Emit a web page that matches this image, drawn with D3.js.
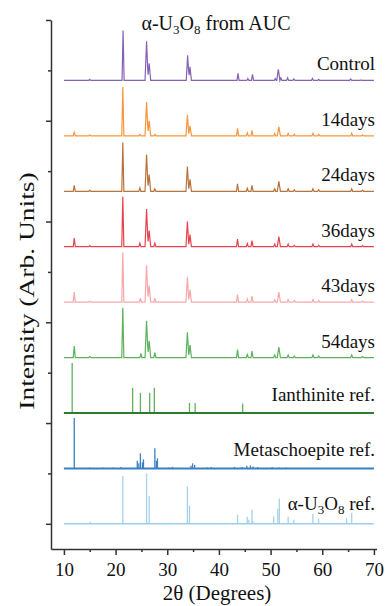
<!DOCTYPE html>
<html>
<head>
<meta charset="utf-8">
<script src="https://cdn.jsdelivr.net/npm/d3@7"></script>
<style>
  body { margin: 0; background: #fff; }
  svg { display: block; }
  text { font-family: "Liberation Serif", "Times New Roman", serif; fill: #111; }
  .axis path, .axis line { stroke: #333; stroke-width: 1.5; }
</style>
</head>
<body>
<svg id="chart" width="386" height="606"></svg>
<script>
// [2theta, relative intensity, (half width)]
const controlPeaks = [[15.0,0.02],[21.45,0.99],[26.0,0.78,0.3],[26.5,0.34,0.3],[33.95,0.5,0.28],[34.4,0.27,0.28],
  [43.7,0.14],[45.6,0.04],[46.5,0.12],[50.9,0.04],[51.5,0.22,0.3],[52.0,0.05],[53.3,0.05],[54.5,0.03],
  [58.1,0.04],[59.3,0.02],[65.5,0.03],[67.5,0.01]];
const days14Peaks = [[12.0,0.07],[15.0,0.02],[21.4,0.97],[24.7,0.03],[26.0,0.67,0.3],[26.5,0.3,0.3],[27.6,0.03],
  [33.9,0.42,0.28],[34.4,0.2,0.28],[43.6,0.15],[45.5,0.06],[46.4,0.11],[50.8,0.05],[51.6,0.18,0.3],
  [53.4,0.05],[54.6,0.03],[58.2,0.05],[59.3,0.03],[65.7,0.05],[67.8,0.02]];
const days24Peaks = [[12.0,0.12],[15.0,0.02],[21.4,0.97],[24.7,0.07],[26.0,0.73,0.3],[26.5,0.33,0.3],[27.6,0.05],
  [33.9,0.49,0.28],[34.4,0.24,0.28],[43.6,0.15],[45.5,0.06],[46.4,0.12],[50.8,0.05],[51.6,0.2,0.3],
  [53.4,0.05],[54.6,0.03],[58.2,0.05],[59.3,0.03],[65.7,0.05],[67.8,0.02]];
const days36Peaks = [[12.0,0.17],[15.0,0.02],[21.4,0.99],[24.7,0.07],[26.0,0.75,0.3],[26.5,0.32,0.3],[27.6,0.07],
  [33.9,0.5,0.28],[34.4,0.24,0.28],[43.6,0.15],[45.5,0.06],[46.4,0.12],[50.8,0.05],[51.6,0.2,0.3],
  [53.4,0.05],[54.6,0.03],[58.2,0.05],[59.3,0.03],[65.7,0.05],[67.8,0.02]];
const days43Peaks = [[12.0,0.2],[15.0,0.02],[21.4,0.99],[24.8,0.08],[26.0,0.73,0.3],[26.5,0.33,0.3],[27.6,0.08],
  [33.9,0.5,0.28],[34.4,0.25,0.28],[43.6,0.15],[45.5,0.06],[46.4,0.12],[50.8,0.05],[51.6,0.2,0.3],
  [53.4,0.05],[54.6,0.03],[58.2,0.05],[59.3,0.03],[65.7,0.05],[67.8,0.02]];
const days54Peaks = [[12.0,0.23],[15.0,0.02],[21.4,0.99],[24.9,0.08],[26.0,0.73,0.3],[26.5,0.33,0.3],[27.6,0.1],
  [33.9,0.5,0.28],[34.4,0.25,0.28],[43.6,0.16],[45.5,0.06],[46.4,0.13],[50.8,0.05],[51.6,0.21,0.3],
  [53.4,0.05],[54.6,0.03],[58.2,0.05],[59.3,0.03],[65.7,0.05],[67.8,0.02]];

const ianthiniteSticks = [[11.6,0.99],[23.3,0.5],[24.8,0.4],[26.6,0.4],[27.5,0.5],[34.3,0.2],[35.4,0.2],[44.6,0.19]];
const metaschoepiteSticks = [[12.0,1.0],[15.0,0.02],[17.5,0.02],[19.5,0.02],[21.0,0.03],[24.2,0.15],[24.5,0.1],
  [24.8,0.3],[25.2,0.12],[25.4,0.18],[27.6,0.4],[27.9,0.15],[28.1,0.2],[30.3,0.02],[31.0,0.03],[34.6,0.05],
  [34.9,0.1],[35.3,0.07],[37.8,0.02],[38.5,0.03],[43.0,0.03],[44.5,0.03],[45.4,0.05],[46.1,0.06],[46.6,0.04],
  [47.5,0.03],[50.3,0.03],[51.6,0.02],[53.0,0.02]];
const u3o8Sticks = [[15.1,0.04],[21.4,0.95],[26.0,1.0],[26.5,0.55],[30.4,0.02],[33.9,0.74],[34.3,0.36],[39.5,0.01],
  [40.3,0.02],[41.2,0.02],[43.6,0.18],[45.5,0.14],[45.8,0.08],[46.4,0.28],[46.6,0.05],[50.6,0.15],[51.4,0.3],
  [51.7,0.5],[53.4,0.14],[54.5,0.08],[56.0,0.02],[57.0,0.02],[58.2,0.2],[59.3,0.1],[60.8,0.02],[62.0,0.02],
  [64.7,0.12],[65.7,0.22]];

const measuredNames = ["Control", "14days", "24days", "36days", "43days", "54days"];
const measuredPeaks = [controlPeaks, days14Peaks, days24Peaks, days36Peaks, days43Peaks, days54Peaks];
const measuredOffsets = [8.8, 7.7, 6.6, 5.5, 4.4, 3.3];
const measuredColors = ["#8462b4", "#f7963c", "#b8733c", "#e8434d", "#f6a9aa", "#5db25d"];

const refNames = ["Ianthinite ref.", "Metaschoepite ref.", "α-U3O8 ref."];
const refSticks = [ianthiniteSticks, metaschoepiteSticks, u3o8Sticks];
const refOffsets = [2.2, 1.1, 0];
const refColors = ["#62b062", "#3a80c4", "#a6d1ea"];
const refBaseColors = ["#2e7d2e", "#3a80c4", "#9fcde8"];

const xMajor = [10, 20, 30, 40, 50, 60, 70];
const xMinor = [15, 25, 35, 45, 55, 65];
const yMajor = [0, 2, 4, 6, 8, 10];
const yMinor = [1, 3, 5, 7, 9];

const svg = d3.select("#chart");
const x = d3.scaleLinear().domain([7.5, 70.5]).range([51, 376.5]);
const y = d3.scaleLinear().domain([-0.5, 10]).range([549, 20]);

// turn a peak list into the vertices of a piecewise-linear trace
function trace(peaks) {
  const xs = new Set([10, 70]);
  peaks.forEach(p => { const w = p[2] || 0.2; xs.add(p[0] - w); xs.add(p[0]); xs.add(p[0] + w); });
  return Array.from(xs).sort((a, b) => a - b).map(t => {
    let v = 0;
    peaks.forEach(p => {
      const w = p[2] || 0.2;
      const d = Math.abs(t - p[0]);
      if (d < w) v += p[1] * (1 - d / w);
    });
    return [t, v];
  });
}

const line = d3.line().x(d => x(d[0])).y(d => y(d[1]));

measuredPeaks.forEach((peaks, i) => {
  const off = measuredOffsets[i];
  svg.append("path")
    .datum(trace(peaks).map(d => [d[0], d[1] + off]))
    .attr("d", line)
    .attr("fill", "none")
    .attr("stroke", measuredColors[i])
    .attr("stroke-width", 1.2);
  svg.append("text")
    .attr("x", 375).attr("y", y(off) - 10)
    .attr("text-anchor", "end")
    .style("font-size", "19px")
    .text(measuredNames[i]);
});

refSticks.forEach((sticks, i) => {
  const off = refOffsets[i];
  svg.append("g").selectAll("line")
    .data(sticks)
    .enter().append("line")
    .attr("x1", d => x(d[0])).attr("x2", d => x(d[0]))
    .attr("y1", y(off)).attr("y2", d => y(off + d[1]))
    .attr("stroke", refColors[i])
    .attr("stroke-width", 1.3);
  svg.append("line")
    .attr("x1", x(10)).attr("x2", x(70))
    .attr("y1", y(off)).attr("y2", y(off))
    .attr("stroke", refBaseColors[i])
    .attr("stroke-width", i === 2 ? 1.5 : 2);
});

// reference labels
svg.append("text").attr("x", 375).attr("y", y(2.2) - 12).attr("text-anchor", "end")
  .style("font-size", "19px").text(refNames[0]);
svg.append("text").attr("x", 375).attr("y", y(1.1) - 12).attr("text-anchor", "end")
  .style("font-size", "19px").text(refNames[1]);

function u3o8(sel, tail) {
  sel.append("tspan").text("α-U");
  sel.append("tspan").attr("dy", 4).style("font-size", "13px").text("3");
  sel.append("tspan").attr("dy", -4).text("O");
  sel.append("tspan").attr("dy", 4).style("font-size", "13px").text("8");
  sel.append("tspan").attr("dy", -4).text(tail);
}
u3o8(svg.append("text").attr("x", 375).attr("y", y(0) - 14).attr("text-anchor", "end")
  .style("font-size", "19px"), " ref.");
u3o8(svg.append("text").attr("x", 216).attr("y", 30).attr("text-anchor", "middle")
  .style("font-size", "20px"), " from AUC");

// axes
const gx = svg.append("g").attr("class", "axis").attr("transform", `translate(0,${y(-0.5)})`);
gx.call(d3.axisBottom(x).tickValues(xMajor).tickSize(6).tickSizeOuter(0).tickFormat(d3.format("d")));
gx.selectAll("text").attr("dy", null).attr("y", 27).style("font-size", "19px")
  .style("font-family", "Liberation Serif, serif").attr("fill", "#111");
svg.append("g").attr("class", "axis").attr("transform", `translate(0,${y(-0.5)})`)
  .call(d3.axisBottom(x).tickValues(xMinor).tickSize(3).tickSizeOuter(0).tickFormat(""))
  .select(".domain").remove();

const gy = svg.append("g").attr("class", "axis").attr("transform", `translate(${x(7.5)},0)`);
gy.call(d3.axisLeft(y).tickValues(yMajor).tickSize(5).tickSizeOuter(0).tickFormat(""));
svg.append("g").attr("class", "axis").attr("transform", `translate(${x(7.5)},0)`)
  .call(d3.axisLeft(y).tickValues(yMinor).tickSize(3).tickSizeOuter(0).tickFormat(""))
  .select(".domain").remove();

svg.append("text")
  .attr("x", 217).attr("y", 600)
  .attr("text-anchor", "middle")
  .style("font-size", "21px")
  .text("2θ (Degrees)");

// y title is drawn a bit stretched along its length, as in the source figure
svg.append("text")
  .attr("transform", "translate(34,291) rotate(-90) scale(1.25,1)")
  .attr("text-anchor", "middle")
  .style("font-size", "22px")
  .text("Intensity (Arb. Units)");
</script>
</body>
</html>
